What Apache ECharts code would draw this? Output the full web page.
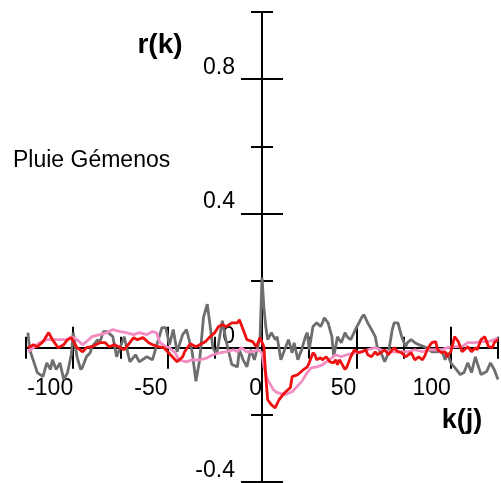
<!DOCTYPE html>
<html>
<head>
<meta charset="utf-8">
<script src="https://cdn.jsdelivr.net/npm/echarts@6/dist/echarts.min.js"></script>
<style>html,body{margin:0;padding:0;background:#fff}#c{width:501px;height:483px}</style>
</head>
<body>
<div id="c"></div>
<script>
// ---- data (lag k in days, correlation r) ----
const grayLag = [-124,-123,-120,-119,-116,-114,-112,-111,-109,-107,-105,-103,-102,-101,-100,-98,-96,-95,-93,-91,-90,-87,-86,-84,-82,-79,-77,-75,-73,-70,-67,-65,-61,-58,-56,-53,-51,-49,-47,-45,-42,-40,-37,-35,-33,-31,-29,-27,-26,-24,-21,-19,-16,-13,-12,-10,-8,-6,-4,-1,0,1,2,3,5,7,8,10,12,14,16,17,19,21,23,24,25,27,29,31,32,33,35,37,38,40,42,44,45,47,50,53,54,56,58,60,61,63,65,67,69,70,72,74,76,77,79,81,83,86,90,93,95,97,98,100,103,105,107,109,111,113,114,116,119,121,123,125];
const grayR = [0.045,-0.006,-0.057,-0.074,-0.086,-0.045,-0.065,-0.036,-0.065,-0.045,-0.095,-0.074,-0.074,-0.02,0.045,-0.027,-0.065,-0.057,-0.027,-0.015,0.003,0.024,0.015,0.048,0.048,0.033,-0.027,0.003,0.033,-0.042,-0.021,-0.042,-0.027,-0.036,0.003,0.06,0.06,0.009,0.054,-0.012,0.039,0.054,-0.012,-0.10,-0.036,0.09,0.13,0.045,0.0,-0.02,0.08,0.02,-0.05,-0.057,-0.006,-0.036,-0.057,-0.006,-0.036,0.033,0.21,0.12,0.063,0.024,0.045,0.024,0.033,-0.036,-0.006,0.024,-0.015,0.015,-0.036,-0.006,0.033,0.045,-0.006,0.063,0.074,0.063,0.074,0.089,0.074,0.033,-0.027,0.033,0.015,0.045,0.033,0.024,0.06,0.092,0.098,0.074,0.054,0.033,0.003,-0.015,-0.042,-0.015,0.054,0.074,0.074,0.033,0.003,0.015,0.024,0.015,0.009,0.003,-0.012,-0.012,-0.006,-0.036,-0.015,-0.045,-0.065,-0.08,-0.074,-0.045,-0.074,-0.027,-0.045,-0.08,-0.071,-0.045,-0.065,-0.095];

const redLag = [-124,-121,-119,-116,-113,-111,-108,-105,-103,-101,-98,-95,-93,-90,-86,-83,-81,-78,-75,-73,-70,-68,-66,-63,-60,-58,-55,-52,-50,-47,-45,-42,-41,-38,-35,-33,-30,-28,-25,-23,-21,-19,-16,-13,-12,-10,-8,-5,-3,-1,0,1,2,3,5,7,9,12,15,16,17,19,22,24,25,27,28,29,31,32,34,36,38,39,40,41,42,44,45,47,49,51,53,55,56,58,60,61,63,65,67,69,70,72,74,76,77,79,81,83,85,86,88,90,92,93,95,97,98,100,102,104,106,107,109,111,113,114,116,118,120,122,123,125];
const redR = [0.0,0.009,0.003,0.018,0.045,0.024,0.0,0.009,0.024,0.030,0.0,-0.012,0.0,0.003,0.015,0.015,0.003,0.009,0.0,-0.006,0.015,0.030,0.024,0.030,0.015,0.009,0.003,0.0,-0.012,-0.030,-0.042,-0.027,-0.012,0.012,0.003,0.009,0.018,0.030,0.045,0.063,0.068,0.063,0.074,0.074,0.083,0.054,0.024,0.018,0.003,0.030,0.033,0.003,-0.086,-0.155,-0.17,-0.179,-0.155,-0.134,-0.119,-0.086,-0.089,-0.080,-0.065,-0.057,-0.045,-0.015,-0.021,-0.036,-0.030,-0.036,-0.027,-0.042,-0.045,-0.036,-0.051,-0.036,-0.045,-0.065,-0.057,-0.027,-0.006,-0.015,-0.012,-0.006,-0.021,-0.027,-0.012,-0.021,-0.015,-0.006,-0.021,-0.006,0.0,-0.012,-0.015,-0.027,-0.030,-0.015,-0.036,-0.027,-0.036,-0.027,0.0,0.015,0.018,-0.006,-0.015,-0.012,-0.027,-0.012,0.033,0.018,-0.012,-0.015,0.003,-0.012,0.0,-0.006,0.024,0.033,0.003,0.0,0.015,0.024];

const pinkLag = [-124,-121,-118,-114,-111,-107,-103,-101,-98,-95,-93,-90,-86,-82,-79,-75,-72,-68,-65,-61,-58,-56,-54,-51,-49,-46,-44,-40,-37,-33,-29,-26,-22,-19,-15,-13,-11,-8,-5,-2,0,1,3,6,8,12,16,18,21,24,26,29,32,34,37,39,42,45,49,53,56,60,63,67,70,74,77,81,85,88,92,95,98,102,106,109,113,116,120,123,125];
const pinkR = [-0.012,0.0,0.015,0.024,0.024,0.024,0.024,0.033,0.024,0.009,0.018,0.033,0.039,0.045,0.054,0.048,0.045,0.039,0.045,0.039,0.048,0.045,0.015,0.003,0.0,-0.015,-0.036,-0.042,-0.036,-0.036,-0.030,-0.021,-0.015,-0.012,-0.006,-0.012,0.0,-0.012,-0.012,-0.006,-0.015,-0.057,-0.095,-0.125,-0.134,-0.140,-0.131,-0.119,-0.101,-0.074,-0.060,-0.057,-0.051,-0.042,-0.030,-0.021,-0.027,-0.021,-0.015,-0.012,-0.006,0.0,-0.006,-0.012,-0.012,-0.012,-0.012,-0.006,-0.012,-0.006,-0.006,-0.006,0.0,0.003,0.003,0.015,0.015,0.018,0.018,0.024,0.030];

const xLabelTicks = [-100, -50, 0, 50, 100];
const xMinorTicks = [-125, -75, -25, 25, 75, 125];
const yLabelTicks = [-0.4, 0, 0.4, 0.8];
const yMinorTicks = [-0.2, 0.2, 0.6, 1.0];

const xTitle = 'k(j)';
const yTitle = 'r(k)';
const note = 'Pluie Gémenos';

const pair = (ks, vs) => ks.map((k, i) => [k, vs[i]]);
const FONT = '"Liberation Sans", Arial, sans-serif';
const black = '#000';

const X_MIN = -125, X_MAX = 125, Y_MIN = -0.4, Y_MAX = 1.0;
const G = { left: 26, right: 3, top: 12, bottom: 1 };
const W = 501 - G.left - G.right, H = 483 - G.top - G.bottom;
// distance from the grid edge to the zero lines (labels are placed from the edge in ECharts 6)
const zeroFromLeft = W * (0 - X_MIN) / (X_MAX - X_MIN);
const zeroFromBottom = H * (0 - Y_MIN) / (Y_MAX - Y_MIN);

function xAx(pos, ticks, len) {
  return {
    type: 'value', min: X_MIN, max: X_MAX, position: pos,
    axisLine: { show: true, onZero: true, lineStyle: { color: black, width: 2 } },
    axisTick: { show: true, customValues: ticks, length: len, lineStyle: { color: black, width: 2 } },
    axisLabel: { show: false }, splitLine: { show: false }
  };
}
function yAx(pos, ticks, len) {
  return {
    type: 'value', min: Y_MIN, max: Y_MAX, position: pos,
    axisLine: { show: true, onZero: true, lineStyle: { color: black, width: 2 } },
    axisTick: { show: true, customValues: ticks, length: len, lineStyle: { color: black, width: 2 } },
    axisLabel: { show: false }, splitLine: { show: false }
  };
}
const xLabelAxis = {
  type: 'value', min: X_MIN, max: X_MAX, position: 'bottom', offset: -zeroFromBottom,
  axisLine: { show: false, onZero: false }, axisTick: { show: false }, splitLine: { show: false },
  axisLabel: { show: true, customValues: xLabelTicks, align: 'right', margin: 29, fontSize: 23,
    fontFamily: 'Liberation Sans', color: black, hideOverlap: false }
};
const yLabelAxis = {
  type: 'value', min: Y_MIN, max: Y_MAX, position: 'left', offset: -zeroFromLeft,
  axisLine: { show: false, onZero: false }, axisTick: { show: false }, splitLine: { show: false },
  axisLabel: { show: true, customValues: yLabelTicks, verticalAlign: 'bottom', margin: 27, fontSize: 23,
    fontFamily: 'Liberation Sans', color: black, hideOverlap: false }
};

const chart = echarts.init(document.getElementById('c'), null, { renderer: 'canvas' });
chart.setOption({
  animation: false,
  backgroundColor: '#fff',
  grid: { left: G.left, right: G.right, top: G.top, bottom: G.bottom, containLabel: false, outerBoundsMode: 'none' },
  xAxis: [
    xAx('bottom', xLabelTicks, 21),
    xAx('top', xLabelTicks, 21),
    xAx('bottom', xMinorTicks, 11),
    xAx('top', xMinorTicks, 11),
    xLabelAxis
  ],
  yAxis: [
    yAx('left', yLabelTicks, 21),
    yAx('right', yLabelTicks, 21),
    yAx('left', yMinorTicks, 11),
    yAx('right', yMinorTicks, 11),
    yLabelAxis
  ],
  series: [
    { type: 'line', name: 'gray', data: pair(grayLag, grayR), showSymbol: false, lineStyle: { color: '#6e6e6e', width: 2.8 }, z: 3 },
    { type: 'line', name: 'pink', data: pair(pinkLag, pinkR), showSymbol: false, lineStyle: { color: '#f28cc2', width: 2.8 }, z: 4 },
    { type: 'line', name: 'red', data: pair(redLag, redR), showSymbol: false, lineStyle: { color: '#ee1111', width: 2.8 }, z: 5 }
  ],
  graphic: [
    { type: 'text', x: 160, y: 45, style: { text: yTitle, font: 'bold 28px ' + FONT, fill: black, align: 'center', verticalAlign: 'middle' } },
    { type: 'text', x: 462, y: 421, style: { text: xTitle, font: 'bold 27px ' + FONT, fill: black, align: 'center', verticalAlign: 'middle' } },
    { type: 'text', x: 13, y: 161, style: { text: note, font: '23px ' + FONT, fill: black, align: 'left', verticalAlign: 'middle' } }
  ]
});
</script>
</body>
</html>
